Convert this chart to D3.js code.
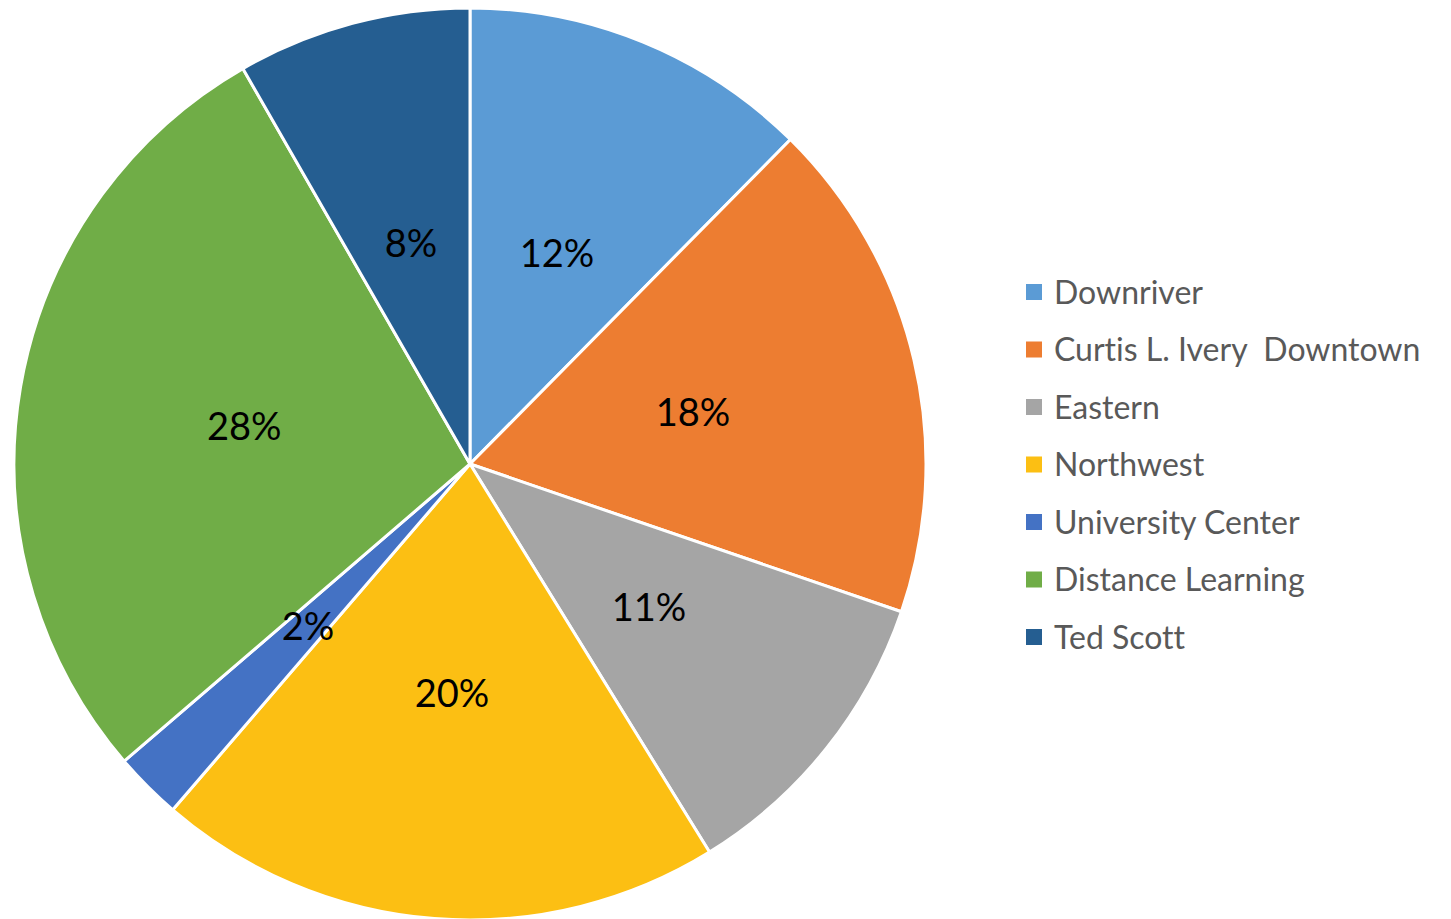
<!DOCTYPE html>
<html>
<head>
<meta charset="utf-8">
<script src="https://cdn.jsdelivr.net/npm/d3@7"></script>
<style>
  body { margin: 0; background: #fff; }
  text { font-variant-ligatures: none; font-feature-settings: "liga" 0; }
</style>
</head>
<body>
<div id="chart"></div>
<script>
// data (share of total, in percent)
const campuses = ['Downriver', 'Curtis L. Ivery  Downtown', 'Eastern', 'Northwest',
                  'University Center', 'Distance Learning', 'Ted Scott'];
const shares = [12.4, 17.85, 10.95, 20.1, 2.4, 28.0, 8.3];
const sliceColors = ['#5B9BD5', '#ED7D31', '#A5A5A5', '#FCBF13', '#4472C4', '#70AD47', '#255E91'];

// Measures
const width = 1451;
const height = 919;
const cx = 470;
const cy = 464;
const radius = 456;
const labelRadius = 229;
const fontFamily = 'Lato, "Open Sans", sans-serif';

const svg = d3.select('#chart').append('svg')
    .attr('width', width)
    .attr('height', height);

const total = d3.sum(shares);
const pie = d3.pie().sort(null).value(d => d);
const arcs = pie(shares);
const arc = d3.arc().innerRadius(0).outerRadius(radius);
const labelArc = d3.arc().innerRadius(labelRadius).outerRadius(labelRadius);
const color = d3.scaleOrdinal().domain(campuses).range(sliceColors);

const g = svg.append('g').attr('transform', `translate(${cx},${cy})`);

g.selectAll('path')
    .data(arcs)
    .join('path')
    .attr('d', arc)
    .attr('fill', (d, i) => color(campuses[i]))
    .attr('stroke', '#fff')
    .attr('stroke-width', 3)
    .attr('stroke-linejoin', 'round');

g.selectAll('text.pct')
    .data(arcs)
    .join('text')
    .attr('class', 'pct')
    .attr('transform', d => `translate(${labelArc.centroid(d)})`)
    .attr('text-anchor', 'middle')
    .attr('dy', '0.38em')
    .attr('font-family', fontFamily)
    .attr('font-size', 38)
    .attr('fill', '#000')
    .text(d => Math.round(d.value / total * 100) + '%');

// legend
const legendX = 1026;
const legendY = 292;
const legendStep = 57.5;
const legend = svg.append('g');

const rows = legend.selectAll('g')
    .data(campuses)
    .join('g')
    .attr('transform', (d, i) => `translate(${legendX},${legendY + i * legendStep})`);

rows.append('rect')
    .attr('x', 0)
    .attr('y', -8)
    .attr('width', 16)
    .attr('height', 16)
    .attr('fill', d => color(d));

rows.append('text')
    .attr('x', 28)
    .attr('dy', '0.36em')
    .attr('font-family', fontFamily)
    .attr('font-size', 32)
    .attr('fill', '#595959')
    .style('white-space', 'pre')
    .text(d => d);
</script>
</body>
</html>
